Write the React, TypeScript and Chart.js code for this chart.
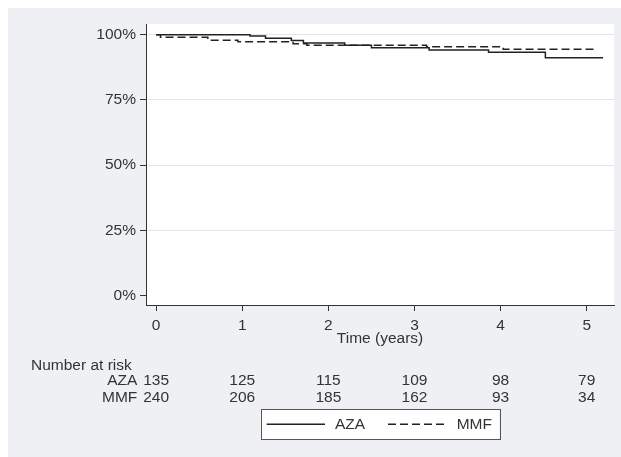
import React, { useEffect, useRef } from 'react';
import { Chart, registerables } from 'chart.js';
Chart.register(...registerables);

const W = 613;
const H = 449;
const FONT = '"Liberation Sans", Arial, Helvetica, sans-serif';
const FS = 15.5;
const TXT = '#333333';

const timeTicks = [0, 1, 2, 3, 4, 5];
const survTicks = [0, 25, 50, 75, 100];

const azaTimes = [0, 1.09, 1.27, 1.57, 1.71, 2.19, 2.5, 3.17, 3.86, 4.52, 5.19];
const azaSurv = [100, 99.5, 98.6, 97.8, 96.8, 96.0, 95.0, 94.1, 93.3, 91.2, 91.2];

const mmfTimes = [0, 0.05, 0.6, 0.95, 1.59, 1.75, 3.14, 4.03, 5.12];
const mmfSurv = [100, 99.0, 97.9, 97.3, 96.5, 96.0, 95.4, 94.4, 94.4];

const riskTimes = [0, 1, 2, 3, 4, 5];
const azaRisk = [135, 125, 115, 109, 98, 79];
const mmfRisk = [240, 206, 185, 162, 93, 34];

const groupNames = ['AZA', 'MMF'];
const xTitle = 'Time (years)';
const riskTitle = 'Number at risk';

const customPlugin = {
  id: 'kmCustom',
  beforeDraw(chart: any) {
    const { ctx, chartArea: a } = chart;
    ctx.save();
    ctx.fillStyle = '#eef0f3';
    ctx.fillRect(0, 0, chart.width, chart.height);
    ctx.fillStyle = '#ffffff';
    ctx.fillRect(a.left, a.top, a.right - a.left, a.bottom - a.top);
    ctx.restore();
  },
  afterDraw(chart: any) {
    const { ctx, chartArea: a } = chart;
    const xs = chart.scales.x;
    const cx = (a.left + a.right) / 2;
    ctx.save();
    ctx.font = `${FS}px ${FONT}`;
    ctx.fillStyle = TXT;
    ctx.textBaseline = 'alphabetic';
    // axis title
    ctx.textAlign = 'center';
    ctx.fillText(xTitle, cx, 334.8);
    // risk table
    ctx.textAlign = 'left';
    ctx.fillText(riskTitle, 23, 362);
    const rows = [azaRisk, mmfRisk];
    const baselines = [377, 394.3];
    rows.forEach((row, r) => {
      ctx.textAlign = 'right';
      ctx.fillText(groupNames[r], 129.3, baselines[r]);
      ctx.textAlign = 'center';
      row.forEach((v, i) => {
        ctx.fillText(String(v), xs.getPixelForValue(riskTimes[i]), baselines[r]);
      });
    });
    // legend
    const bw = 238.6;
    const bl = cx - bw / 2;
    const bt = 401;
    const bh = 30.3;
    ctx.fillStyle = '#ffffff';
    ctx.fillRect(bl, bt, bw, bh);
    ctx.strokeStyle = '#555555';
    ctx.lineWidth = 1;
    ctx.strokeRect(Math.round(bl) + 0.5, bt + 0.5, Math.round(bw), Math.round(bh));
    const ly = bt + bh / 2;
    ctx.strokeStyle = '#222222';
    ctx.lineWidth = 1.5;
    ctx.beginPath();
    ctx.moveTo(bl + 6, ly);
    ctx.lineTo(bl + 64.3, ly);
    ctx.stroke();
    ctx.setLineDash([8, 4]);
    ctx.beginPath();
    ctx.moveTo(bl + 127.3, ly);
    ctx.lineTo(bl + 186, ly);
    ctx.stroke();
    ctx.setLineDash([]);
    ctx.fillStyle = TXT;
    ctx.textAlign = 'left';
    ctx.textBaseline = 'middle';
    ctx.fillText(groupNames[0], bl + 74.3, ly + 1);
    ctx.fillText(groupNames[1], bl + 196, ly + 1);
    ctx.restore();
  },
};

export default function App() {
  const ref = useRef<HTMLCanvasElement | null>(null);
  useEffect(() => {
    if (!ref.current) return;
    const chart = new Chart(ref.current, {
      type: 'line',
      data: {
        datasets: [
          {
            label: groupNames[0],
            data: azaTimes.map((t, i) => ({ x: t, y: azaSurv[i] })),
            borderColor: '#222222',
            borderWidth: 1.5,
            pointRadius: 0,
            stepped: 'before',
            fill: false,
          },
          {
            label: groupNames[1],
            data: mmfTimes.map((t, i) => ({ x: t, y: mmfSurv[i] })),
            borderColor: '#222222',
            borderWidth: 1.5,
            borderDash: [8, 4],
            pointRadius: 0,
            stepped: 'before',
            fill: false,
          },
        ],
      },
      options: {
        responsive: false,
        animation: false,
        devicePixelRatio: 1,
        layout: { padding: { left: 0, top: 16, right: 7, bottom: 122 } },
        plugins: { legend: { display: false }, tooltip: { enabled: false } },
        scales: {
          x: {
            type: 'linear',
            bounds: 'data',
            min: -0.118,
            max: 5.317,
            afterBuildTicks: (s: any) => {
              s.ticks = timeTicks.map((v) => ({ value: v }));
            },
            afterFit: (s: any) => {
              s.height = 30;
            },
            grid: { drawOnChartArea: false, drawTicks: true, tickLength: 6, tickColor: '#333333', tickWidth: 1 },
            border: { display: true, color: '#333333', width: 1 },
            ticks: {
              autoSkip: false,
              maxRotation: 0,
              padding: 5,
              color: TXT,
              font: { family: FONT, size: FS },
              callback: (v: any) => String(v),
            },
          },
          y: {
            type: 'linear',
            bounds: 'data',
            min: -3.56,
            max: 104.1,
            afterBuildTicks: (s: any) => {
              s.ticks = survTicks.map((v) => ({ value: v }));
            },
            afterFit: (s: any) => {
              s.width = 138;
            },
            grid: {
              drawOnChartArea: true,
              drawTicks: true,
              tickLength: 6,
              tickColor: '#333333',
              color: (c: any) => (c.tick && c.tick.value === 0 ? 'rgba(0,0,0,0)' : '#e3e5e8'),
              lineWidth: 1,
            },
            border: { display: true, color: '#333333', width: 1 },
            ticks: {
              padding: 4,
              color: TXT,
              font: { family: FONT, size: FS },
              callback: (v: any) => `${v}%`,
            },
          },
        },
      },
      plugins: [customPlugin],
    });
    return () => chart.destroy();
  }, []);
  return (
    <div style={{ position: 'fixed', left: 8, top: 8, width: W, height: H, background: '#eef0f3' }}>
      <canvas ref={ref} width={W} height={H} style={{ display: 'block', width: W, height: H }} />
    </div>
  );
}
